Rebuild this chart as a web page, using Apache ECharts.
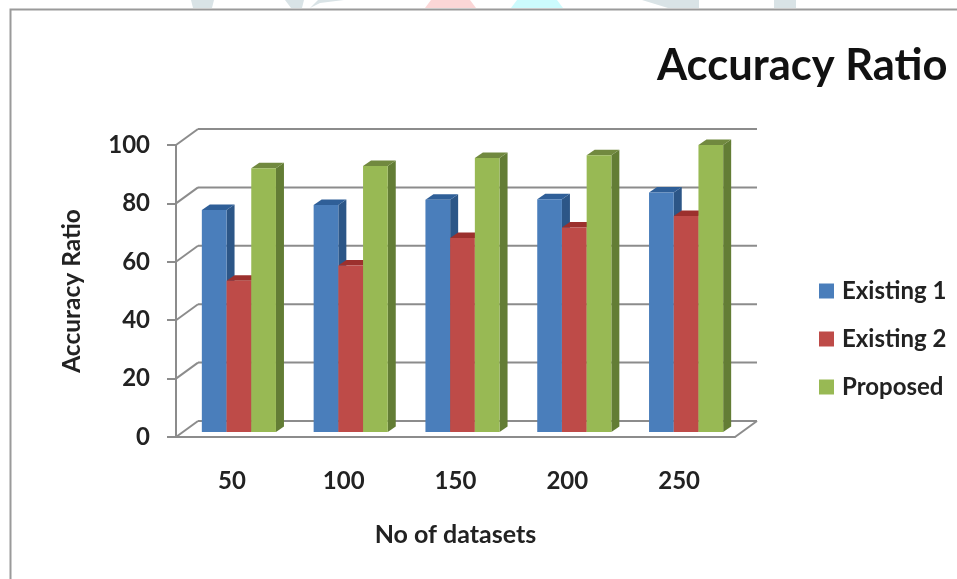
<!DOCTYPE html>
<html>
<head>
<meta charset="utf-8">
<title>Accuracy Ratio</title>
<script src="https://cdn.jsdelivr.net/npm/echarts@6/dist/echarts.min.js"></script>
<style>
  html, body { margin: 0; padding: 0; background: #fff; }
  #main { width: 957px; height: 579px; }
</style>
</head>
<body>
<div id="main"></div>
<script>
const categories = ["50", "100", "150", "200", "250"];
const existing1 = [76, 77.7, 79.5, 79.7, 82];
const existing2 = [51.8, 57, 66.4, 70, 74];
const proposed = [90.3, 91.1, 93.8, 94.8, 98.3];
const yTicks = [0, 20, 40, 60, 80, 100];

const font = "Lato";
// depth of the fake 3d box, and of one bar inside it
const wallX = 22, wallY = -16;
const barInsetX = 7, barInsetY = -5;
const barDepthX = 8, barDepthY = -5.5;

function renderBar(seriesPos, colors) {
  return function (params, api) {
    const idx = api.value(0);
    const top = api.coord([idx, api.value(1)]);
    const base = api.coord([idx, 0]);
    const w = api.size([1, 0])[0] * 0.221;
    const x0 = top[0] + (seriesPos - 1.5) * w + barInsetX;
    const x1 = x0 + w;
    const yT = top[1] + barInsetY;
    const yB = base[1] + barInsetY;
    return {
      type: "group",
      children: [
        {
          type: "polygon",
          shape: { points: [[x1, yT], [x1 + barDepthX, yT + barDepthY], [x1 + barDepthX, yB + barDepthY], [x1, yB]] },
          style: { fill: colors.side },
        },
        {
          type: "polygon",
          shape: { points: [[x0, yT], [x0 + barDepthX, yT + barDepthY], [x1 + barDepthX, yT + barDepthY], [x1, yT]] },
          style: { fill: colors.top },
        },
        {
          type: "rect",
          shape: { x: x0, y: yT, width: w, height: yB - yT },
          style: { fill: colors.front },
        },
      ],
    };
  };
}

// back wall lines and the diagonals that join them to the left axis
function renderWall(params, api) {
  const cs = params.coordSys;
  const y = api.coord([0, api.value(0)])[1];
  const lineStyle = { stroke: "#8c8c8c", lineWidth: 2, fill: null };
  const children = [
    { type: "line", shape: { x1: cs.x + wallX, y1: y + wallY, x2: cs.x + cs.width + wallX, y2: y + wallY }, style: lineStyle },
    { type: "line", shape: { x1: cs.x, y1: y, x2: cs.x + wallX, y2: y + wallY }, style: lineStyle },
  ];
  if (api.value(0) === 0) {
    children.push({
      type: "line",
      shape: { x1: cs.x + cs.width, y1: y, x2: cs.x + cs.width + wallX, y2: y + wallY },
      style: lineStyle,
    });
  }
  return { type: "group", children: children };
}

function barSeries(name, values, pos, colors) {
  return {
    name: name,
    type: "custom",
    z: 3 + pos,
    itemStyle: { color: colors.front },
    encode: { x: 0, y: 1 },
    data: values.map((v, i) => [i, v]),
    renderItem: renderBar(pos, colors),
  };
}

// bits of the page logo cut off above the frame
function logoScrap(points, fill) {
  return { type: "polygon", shape: { points: points }, style: { fill: fill } };
}

const chart = echarts.init(document.getElementById("main"));
chart.setOption({
  animation: false,
  backgroundColor: "#fff",
  title: {
    text: "Accuracy Ratio",
    left: 652,
    top: 39,
    textStyle: { fontFamily: font, fontSize: 43.5, fontWeight: "bold", color: "#111" },
  },
  graphic: [
    logoScrap([[191, 0], [214, 0], [212, 8], [193, 8]], "#d9e3e6"),
    logoScrap([[285, 0], [304, 0], [302, 8], [291, 8]], "#d9e3e6"),
    logoScrap([[310, 8], [320, 3], [344, 0], [318, 0]], "#d9e3e6"),
    logoScrap([[431, 0], [470, 0], [476, 8], [425, 8]], "#fbd6d6"),
    logoScrap([[517, 0], [557, 0], [563, 8], [511, 8]], "#ccfbfd"),
    logoScrap([[642, 0], [672, 0], [699, 0], [699, 8], [668, 8]], "#d9e3e6"),
    logoScrap([[774, 0], [796, 0], [796, 8], [774, 8]], "#d9e3e6"),
    {
      type: "polyline",
      shape: { points: [[957, 9.5], [10.5, 9.5], [10.5, 579]] },
      style: { stroke: "#9a9a9a", lineWidth: 2, fill: null },
    },
  ],
  legend: {
    orient: "vertical",
    left: 814,
    top: 273,
    itemWidth: 15,
    itemHeight: 15,
    itemGap: 22,
    icon: "rect",
    data: ["Existing 1", "Existing 2", "Proposed"],
    textStyle: { fontFamily: font, fontSize: 24, fontWeight: "bold", color: "#222", lineHeight: 26, padding: [0, 0, 0, 3] },
  },
  grid: { left: 176, top: 145, width: 559, height: 292 },
  xAxis: {
    type: "category",
    data: categories,
    name: "No of datasets",
    nameLocation: "middle",
    nameGap: 85,
    nameTextStyle: { fontFamily: font, fontSize: 25, fontWeight: "bold", color: "#222" },
    axisLine: { lineStyle: { color: "#8c8c8c", width: 2 } },
    axisTick: { show: false },
    axisLabel: { margin: 32, fontFamily: font, fontSize: 24, fontWeight: "bold", color: "#222" },
    splitLine: { show: false },
  },
  yAxis: {
    type: "value",
    min: 0,
    max: 100,
    interval: 20,
    name: "Accuracy Ratio",
    nameLocation: "middle",
    nameGap: 91,
    nameTextStyle: { fontFamily: font, fontSize: 24.5, fontWeight: "bold", color: "#222" },
    axisLine: { show: true, lineStyle: { color: "#8c8c8c", width: 2 } },
    axisTick: { show: true, length: 9, lineStyle: { color: "#8c8c8c", width: 2 } },
    axisLabel: { margin: 26, fontFamily: font, fontSize: 24, fontWeight: "bold", color: "#222" },
    splitLine: { show: false },
  },
  series: [
    {
      type: "custom",
      silent: true,
      z: 1,
      encode: { y: 0 },
      data: yTicks.map((v) => [v]),
      renderItem: renderWall,
    },
    barSeries("Existing 1", existing1, 0, { front: "#4a7ebb", side: "#2c5687", top: "#2f5f98" }),
    barSeries("Existing 2", existing2, 1, { front: "#be4b48", side: "#8f3331", top: "#9c302d" }),
    barSeries("Proposed", proposed, 2, { front: "#98b954", side: "#637d35", top: "#71893f" }),
  ],
});
</script>
</body>
</html>
